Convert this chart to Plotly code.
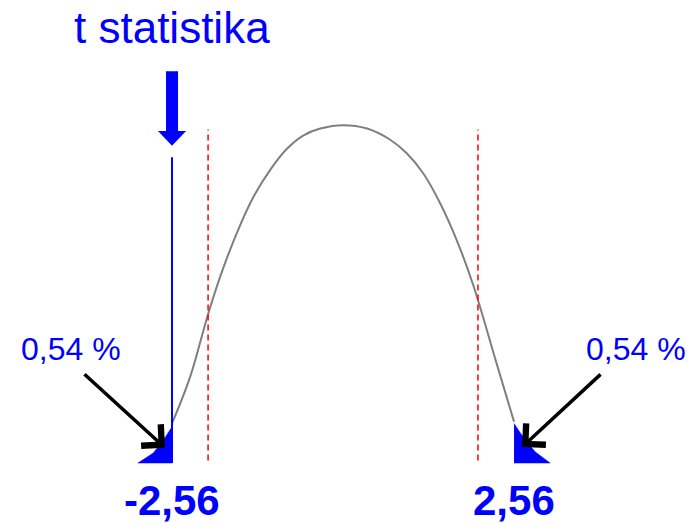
import plotly.graph_objects as go

# ---- data ----
t_stat = -2.56            # observed t statistic
t_crit = 2.02             # critical value (red dashed lines)
tail_pct_label = "0,54 %"
title_text = "t statistika"
stat_labels = ["-2,56", "2,56"]

curve_t = [-2.56, -2.29, -2.03, -1.84, -1.59, -1.34, -1.09, -0.84, -0.59, -0.34, 0.0,
           0.36, 0.70, 0.95, 1.20, 1.45, 1.70, 1.95, 2.30, 2.56]
curve_y = [0.047, 0.102, 0.174, 0.221, 0.273, 0.316, 0.348, 0.373, 0.389, 0.397, 0.401,
           0.397, 0.384, 0.368, 0.344, 0.309, 0.265, 0.211, 0.118, 0.049]

left_tail_t = [-3.07, -2.84, -2.69, -2.56]
left_tail_y = [0.0, 0.012, 0.027, 0.043]
right_tail_t = [2.56, 2.72, 2.88, 3.10]
right_tail_y = [0.047, 0.028, 0.013, 0.0]

BLUE = "#0000ff"

fig = go.Figure()

# tails
fig.add_trace(go.Scatter(x=left_tail_t + [left_tail_t[-1], left_tail_t[0]],
                         y=left_tail_y + [0, 0], fill="toself", fillcolor=BLUE,
                         mode="lines", line=dict(color=BLUE, width=0.5), hoverinfo="skip"))
fig.add_trace(go.Scatter(x=right_tail_t + [right_tail_t[0]],
                         y=right_tail_y + [0], fill="toself", fillcolor=BLUE,
                         mode="lines", line=dict(color=BLUE, width=0.5), hoverinfo="skip"))

# curve
fig.add_trace(go.Scatter(x=curve_t, y=curve_y, mode="lines", line_shape="spline",
                         line=dict(color="#7f7f7f", width=2, smoothing=1.0), hoverinfo="skip"))

# critical lines
for c in (-t_crit, t_crit):
    fig.add_shape(type="line", x0=c, x1=c, y0=0.003, y1=0.396,
                  line=dict(color="#ff0000", width=1.5, dash="6px,4px"))

# t statistic line
fig.add_shape(type="line", x0=t_stat, x1=t_stat, y0=0.0, y1=0.363,
              line=dict(color=BLUE, width=2))

# thick blue arrow (shaft + head) above the statistic line
sw, hw = 0.09, 0.21
y_top, y_head, y_tip = 0.465, 0.394, 0.3765
fig.add_trace(go.Scatter(
    x=[t_stat - sw, t_stat + sw, t_stat + sw, t_stat + hw, t_stat, t_stat - hw, t_stat - sw, t_stat - sw],
    y=[y_top, y_top, y_head, y_head, y_tip, y_head, y_head, y_top],
    fill="toself", fillcolor=BLUE, mode="lines", line=dict(color=BLUE, width=0), hoverinfo="skip"))

FONT = "Liberation Sans, Arial, sans-serif"

# title
fig.add_annotation(x=t_stat, y=0.517, text=title_text, showarrow=False,
                   font=dict(size=44, color=BLUE, family=FONT), xanchor="center", yanchor="middle")

# value labels
for x, lab in zip([t_stat, -t_stat], stat_labels):
    fig.add_annotation(x=x, y=-0.044, text="<b>%s</b>" % lab, showarrow=False,
                       font=dict(size=42, color=BLUE, family=FONT), xanchor="center", yanchor="middle")

# percent labels
fig.add_annotation(x=-4.07, y=0.135, text=tail_pct_label, showarrow=False,
                   font=dict(size=32, color=BLUE, family=FONT), xanchor="center", yanchor="middle")
fig.add_annotation(x=4.38, y=0.135, text=tail_pct_label, showarrow=False,
                   font=dict(size=32, color=BLUE, family=FONT), xanchor="center", yanchor="middle")

# black arrows
fig.add_annotation(x=-2.665, y=0.018, ax=-82, ay=-75, text="", showarrow=True,
                   arrowhead=4, arrowsize=1.6, arrowwidth=3.5, arrowcolor="black")
fig.add_annotation(x=2.68, y=0.019, ax=80, ay=-74, text="", showarrow=True,
                   arrowhead=4, arrowsize=1.6, arrowwidth=3.5, arrowcolor="black")

fig.update_layout(
    width=697, height=523, margin=dict(l=0, r=0, t=0, b=0),
    paper_bgcolor="white", plot_bgcolor="white", showlegend=False,
    xaxis=dict(range=[-5.135, 5.299], visible=False, fixedrange=True),
    yaxis=dict(range=[-0.0712, 0.5496], visible=False, fixedrange=True),
)

fig.write_html("out.html", config={"displayModeBar": False},
               post_script="document.body.style.margin='0';document.body.style.overflow='hidden';")
